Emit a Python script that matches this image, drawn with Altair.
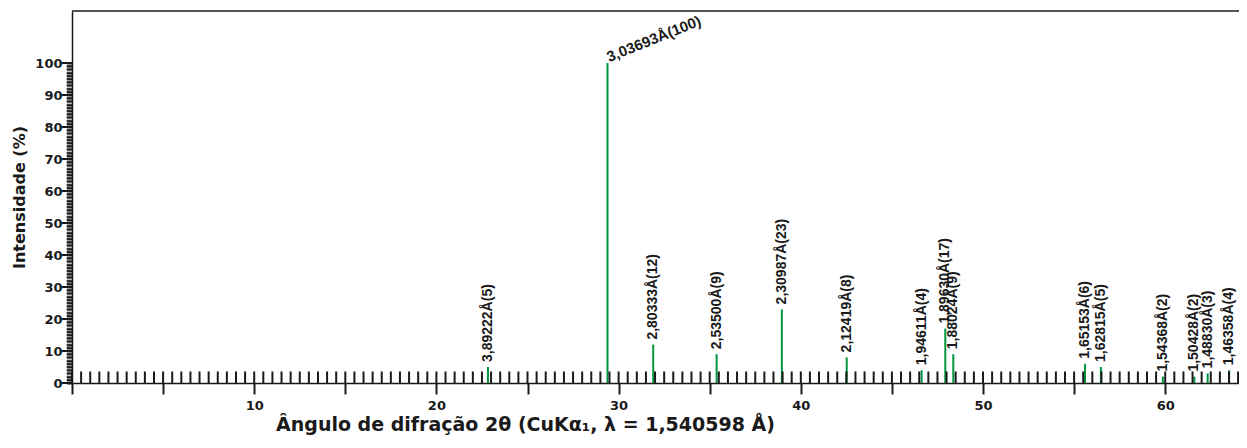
import altair as alt
import pandas as pd

# Peak data (2θ in degrees, relative intensity %, d-spacing label)
two_theta = [22.83, 29.39, 31.90, 35.38, 38.96, 42.52, 46.63, 47.93, 48.37,
             55.60, 56.47, 59.87, 61.60, 62.33, 63.51]
intensity = [5, 100, 12, 9, 23, 8, 4, 17, 9, 6, 5, 2, 2, 3, 4]
d_spacing = ["3,89222", "3,03693", "2,80333", "2,53500", "2,30987", "2,12419",
             "1,94611", "1,89630", "1,88024", "1,65153", "1,62815", "1,54368",
             "1,50428", "1,48830", "1,46358"]

# Axis ticks
x_major_ticks = [0, 5, 10, 15, 20, 25, 30, 35, 40, 45, 50, 55, 60]
x_minor_ticks = [i / 2 for i in range(0, 129)]
y_major_ticks = [0, 10, 20, 30, 40, 50, 60, 70, 80, 90, 100]
y_minor_ticks = list(range(0, 101))

W, H = 1167, 372
GREEN = "#00963f"
INK = "#1a1a1a"
HFONT = "DejaVu Sans"
VFONT = "Liberation Sans"

peaks = pd.DataFrame({
    "x": two_theta,
    "y": intensity,
    "y0": [0] * len(two_theta),
    "label": [f"{d}Å({i})" for d, i in zip(d_spacing, intensity)],
})

xscale = alt.Scale(domain=[0, 64.05], nice=False, zero=False)
yscale = alt.Scale(domain=[0, 116.25], nice=False)

x_axis = alt.Axis(
    values=x_major_ticks, tickSize=11, tickWidth=2, tickColor=INK,
    labelExpr="datum.value % 10 == 0 && datum.value > 0 ? datum.label : ''",
    labelFont=HFONT, labelFontWeight="bold", labelFontSize=13, labelColor=INK,
    labelPadding=5, labelOverlap=False, grid=False,
    domainColor=INK, domainWidth=1.5,
    title="Ângulo de difração 2θ (CuKα₁, λ = 1,540598 Å)",
    titleFont=HFONT, titleFontWeight="bold", titleFontSize=19, titleColor=INK,
    titlePadding=3, titleX=453,
)
y_axis = alt.Axis(
    values=y_minor_ticks, tickSize=5.5, tickWidth=2, tickColor=INK,
    labelExpr="datum.value % 10 == 0 ? datum.label : ''",
    labelFont=HFONT, labelFontWeight="bold", labelFontSize=13, labelColor=INK,
    labelPadding=4.5, labelOverlap=False, labelBound=False, grid=False,
    domainColor=INK, domainWidth=1.5,
    title="Intensidade (%)",
    titleFont=HFONT, titleFontWeight="bold", titleFontSize=16, titleColor=INK,
    titlePadding=7,
)


def X():
    return alt.X("x:Q", scale=xscale, axis=x_axis)


def Y():
    return alt.Y("y:Q", scale=yscale, axis=y_axis)


bars = alt.Chart(peaks).mark_rule(color=GREEN, strokeWidth=2).encode(
    x=X(), y=Y(), y2="y0:Q"
)

labels = alt.Chart(peaks).transform_filter("datum.y < 100").mark_text(
    angle=270, align="left", baseline="middle", dx=5,
    font=VFONT, fontWeight="bold", fontSize=14, color=INK,
).encode(x=X(), y=Y(), text="label:N")

top_label = alt.Chart(peaks).transform_filter("datum.y >= 100").mark_text(
    angle=338, align="left", baseline="alphabetic", dx=2, dy=0,
    font=VFONT, fontWeight="bold", fontSize=15, color=INK,
).encode(x=X(), y=Y(), text="label:N")

# upward ticks on the x axis, every 0.5°
xticks_df = pd.DataFrame({
    "x": x_minor_ticks,
    "y": [0] * len(x_minor_ticks),
    "y2": [3.6] * len(x_minor_ticks),
})
x_up_ticks = alt.Chart(xticks_df).mark_rule(color=INK, strokeWidth=2, clip=False).encode(
    x=X(), y=Y(), y2="y2:Q"
)

# minor ticks on the y axis, every 1 %
yticks_df = pd.DataFrame({
    "y": y_minor_ticks,
    "x": [-0.15] * len(y_minor_ticks),
})
y_minor = alt.Chart(yticks_df).mark_tick(
    color=INK, orient="horizontal", size=5.5, thickness=2, clip=False
).encode(y=Y(), x=X())

# longer major ticks on the y axis, every 10 %
ymajor_df = pd.DataFrame({"y": y_major_ticks})
y_major = alt.Chart(ymajor_df).mark_rule(color=INK, strokeWidth=2, clip=False).encode(
    y=Y(), x=alt.value(-10), x2=alt.value(0)
)

frame = alt.Chart(pd.DataFrame({"a": [0]})).mark_rule(color=INK, strokeWidth=1.5).encode(
    y=alt.value(0), x=alt.value(0), x2=alt.value(W)
)

chart = alt.layer(bars, x_up_ticks, y_minor, y_major, frame, labels, top_label).properties(
    width=W, height=H,
    autosize=alt.AutoSizeParams(type="none"),
    padding={"left": 64, "top": 3, "right": 0, "bottom": 57},
).configure_view(stroke=None)

chart.save("out.html", embed_options={"renderer": "svg", "actions": False})
